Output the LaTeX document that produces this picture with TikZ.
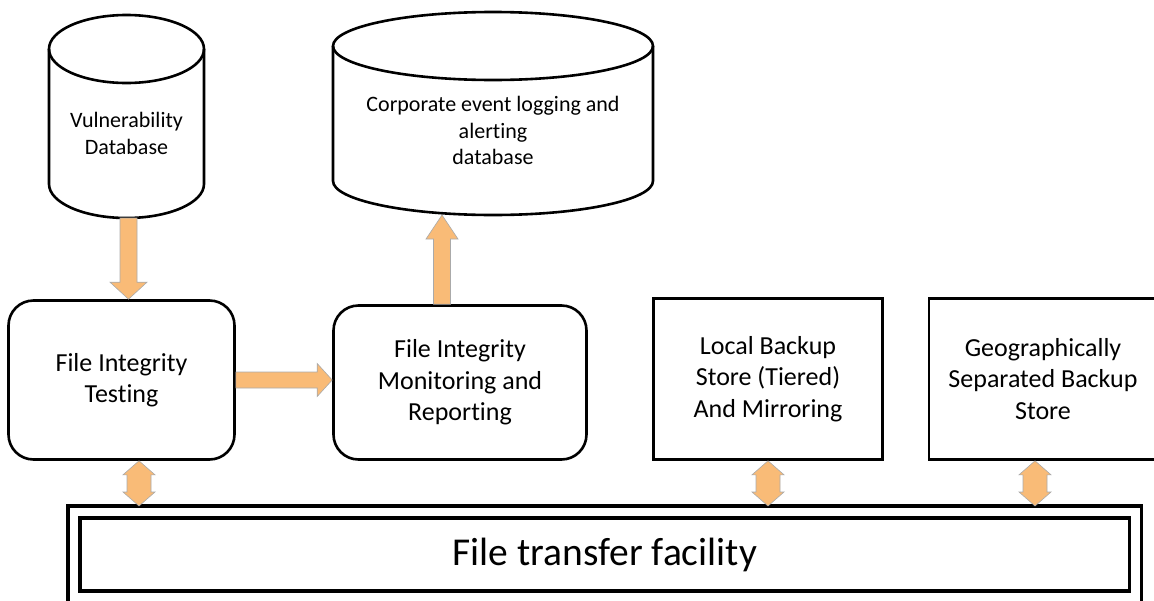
\documentclass[tikz,border=0pt]{standalone}
\usepackage{fontspec}
\setmainfont{Carlito}[Ligatures={NoCommon}]
\usetikzlibrary{calc}
\definecolor{arrfill}{RGB}{249,187,119}
\definecolor{arredge}{RGB}{170,170,170}
\tikzset{
  boxline/.style={line width=2.6pt},
  roundbox/.style={draw, boxline, rounded corners=25pt, align=center, inner sep=0pt},
  sharpbox/.style={draw, boxline, align=center, inner sep=0pt},
  cyl/.style={inner sep=0pt, outer sep=0pt, align=center},
  blockarrow/.style={fill=arrfill, draw=arredge, line width=0.6pt, line join=miter},
  boxfont/.style={font=\fontsize{26}{31.5}\selectfont},
}
\newcommand\blockarr[5]{% start, tip, shaft half, head half, head length
  \coordinate (hb) at ($(#2)!#5!(#1)$);
  \path[blockarrow] ($(#1)!#3!90:(#2)$) -- ($(hb)!#3!-90:(#1)$) -- ($(hb)!#4!-90:(#1)$)
    -- (#2) -- ($(hb)!#4!90:(#1)$) -- ($(hb)!#3!90:(#1)$) -- ($(#1)!#3!-90:(#2)$) -- cycle;
}
\newcommand\dblarr[5]{% tip A, tip B, shaft half, head half, head length
  \coordinate (hba) at ($(#1)!#5!(#2)$);
  \coordinate (hbb) at ($(#2)!#5!(#1)$);
  \path[blockarrow] (#1) -- ($(hba)!#4!90:(#2)$) -- ($(hba)!#3!90:(#2)$)
    -- ($(hbb)!#3!-90:(#1)$) -- ($(hbb)!#4!-90:(#1)$) -- (#2)
    -- ($(hbb)!#4!90:(#1)$) -- ($(hbb)!#3!90:(#1)$)
    -- ($(hba)!#3!-90:(#2)$) -- ($(hba)!#4!-90:(#2)$) -- cycle;
}
\begin{document}
\begin{tikzpicture}[x=1pt,y=-1pt]
\useasboundingbox (0,0) rectangle (1154,600);
\clip (0,0) rectangle (1154,600);

% Vulnerability database cylinder
\node[cyl, minimum width=155pt, minimum height=169pt, font=\fontsize{22}{27}\selectfont]
  (vdb) at (126.5,133.5) {Vulnerability\\Database};
\draw[boxline] (vdb.north) ellipse [x radius=77.5pt, y radius=34pt];
\draw[boxline] (vdb.north west) -- ($(vdb.south west)+(0,34pt)$)
  arc [start angle=180, end angle=360, x radius=77.5pt, y radius=34pt]
  -- (vdb.north east);

% Corporate database cylinder
\node[cyl, minimum width=320pt, minimum height=169pt, font=\fontsize{22}{26.5}\selectfont]
  (corp) at (493,130.5) {Corporate event logging and\\alerting\\database};
\draw[boxline] (corp.north) ellipse [x radius=160pt, y radius=34pt];
\draw[boxline] (corp.north west) -- ($(corp.south west)+(0,34pt)$)
  arc [start angle=180, end angle=360, x radius=160pt, y radius=34pt]
  -- (corp.north east);

% Boxes
\node[roundbox, boxfont, minimum width=226pt, minimum height=159pt] (fit) at (121.5,380)
  {File Integrity\\Testing};
\node[roundbox, boxfont, minimum width=253pt, minimum height=154pt] (fim) at (460,382.5)
  {File Integrity\\Monitoring and\\Reporting};
\node[sharpbox, boxfont, minimum width=229pt, minimum height=161pt] (local) at (768,379)
  {Local Backup\\Store (Tiered)\\And Mirroring};
\node[sharpbox, minimum width=250pt, minimum height=161pt] (geo) at (1054,379) {};
\node[boxfont, align=center, inner sep=0pt] (geotext) at (1043,379)
  {Geographically\\Separated Backup\\Store};

% File transfer facility
\node[draw, double, line width=3.7pt, double distance=8.3pt, outer sep=6pt,
  minimum width=1061.5pt, minimum height=85pt, font=\fontsize{39.5}{46}\selectfont]
  (ftf) at (604.75,554.5) {File transfer facility};

% Arrows
\coordinate (a1s) at ($(vdb.south)+(2pt,0)$);
\coordinate (a1e) at (a1s |- fit.north);
\blockarr{a1s}{a1e}{8.5pt}{18.5pt}{17pt}

\coordinate (a2s) at ($(fim.north)+(-18pt,0)$);
\coordinate (a2e) at (a2s |- corp.south);
\blockarr{a2s}{a2e}{8.5pt}{16pt}{24pt}

\coordinate (a3s) at (fit.east);
\coordinate (a3e) at (fit.east -| fim.west);
\blockarr{a3s}{a3e}{8pt}{16.5pt}{15pt}

\coordinate (d1a) at ($(fit.south)+(17.5pt,0)$);
\coordinate (d1b) at (d1a |- ftf.north);
\dblarr{d1a}{d1b}{12pt}{16pt}{14pt}

\coordinate (d2a) at (local.south);
\coordinate (d2b) at (d2a |- ftf.north);
\dblarr{d2a}{d2b}{12pt}{16pt}{14pt}

\coordinate (d3a) at ($(geotext.south |- geo.south)+(-8pt,0)$);
\coordinate (d3b) at (d3a |- ftf.north);
\dblarr{d3a}{d3b}{12pt}{16pt}{14pt}
\end{tikzpicture}
\end{document}
